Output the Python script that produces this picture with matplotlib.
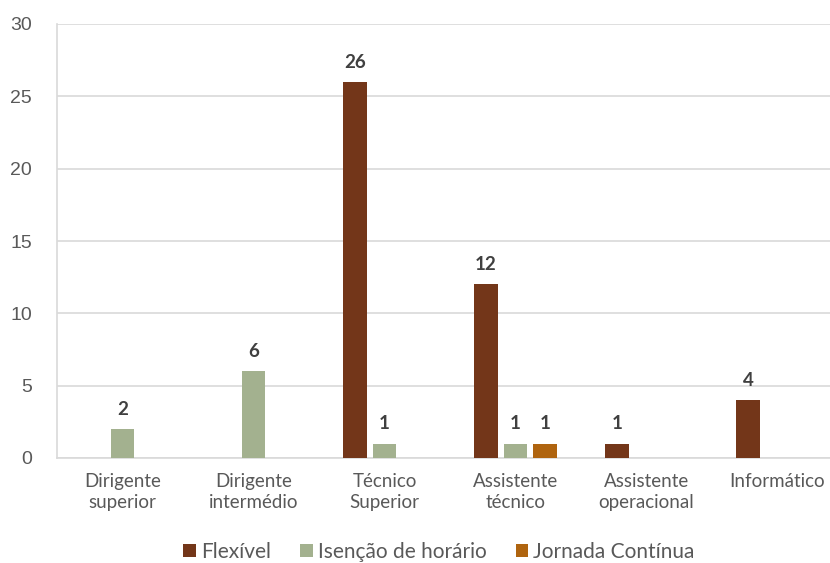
import numpy as np
import matplotlib.pyplot as plt

categorias = ['Dirigente\nsuperior', 'Dirigente\nintermédio', 'Técnico\nSuperior',
              'Assistente\ntécnico', 'Assistente\noperacional', 'Informático']
flexivel = [np.nan, np.nan, 26, 12, 1, 4]
isencao = [2, 6, 1, 1, np.nan, np.nan]
jornada = [np.nan, np.nan, np.nan, 1, np.nan, np.nan]

series = [('Flexível', flexivel, '#733619'),
          ('Isenção de horário', isencao, '#A3B18F'),
          ('Jornada Contínua', jornada, '#AF640F')]

plt.rcParams['font.family'] = ['Lato', 'DejaVu Sans']

fig = plt.figure(figsize=(8.3, 5.63), dpi=100)
ax = fig.add_axes([57 / 830, 105 / 563, 786 / 830, 434 / 563])

x = np.arange(len(categorias))
w = 0.176
offsets = [-0.225, 0, 0.225]
for (nome, vals, cor), off in zip(series, offsets):
    bars = ax.bar(x + off, vals, w, color=cor, label=nome, zorder=3)
    for xi, v in zip(x, vals):
        if not np.isnan(v):
            ax.annotate(f'{v:g}', (xi + off, v), xytext=(0, 8), textcoords='offset points',
                        ha='center', va='bottom', fontsize=13.5, fontweight='bold', color='#404040')

ax.set_xlim(-0.5, 5.5)
ax.set_ylim(0, 30)
ax.set_yticks(range(0, 31, 5))
ax.set_xticks(x)
ax.set_xticklabels(categorias, fontsize=13.5, color='#595959', linespacing=1.3)
for t in ax.get_yticklabels():
    t.set_family('Liberation Sans')
    t.set_fontsize(14)
    t.set_color('#595959')
ax.tick_params(length=0)
ax.tick_params(axis='y', pad=18)
ax.tick_params(axis='x', pad=11)
ax.grid(axis='y', color='#d9d9d9', linewidth=1.2, zorder=0)
for s in ['top', 'right']:
    ax.spines[s].set_visible(False)
ax.spines['left'].set_color('#d9d9d9')
ax.spines['bottom'].set_color('#d9d9d9')
ax.spines['left'].set_linewidth(1.2)
ax.spines['bottom'].set_linewidth(1.2)

fig.legend(loc='center', bbox_to_anchor=(439 / 830, 1 - 552 / 563), ncol=3, frameon=False,
           fontsize=15, handlelength=0.6, handleheight=0.6, handletextpad=0.25,
           columnspacing=1.4, labelcolor='#595959')

fig.savefig('out.png', dpi=100)
